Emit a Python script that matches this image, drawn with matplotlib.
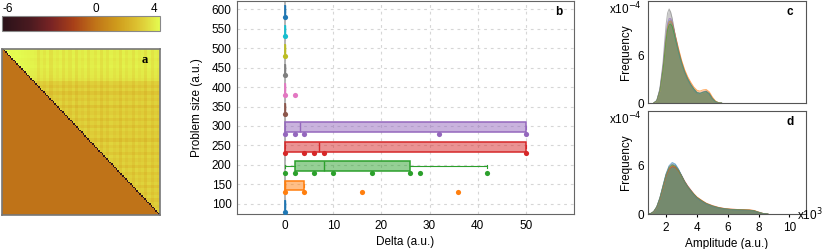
import numpy as np
import matplotlib
matplotlib.use("Agg")
import matplotlib.pyplot as plt
from matplotlib.colors import LinearSegmentedColormap

plt.rcParams['font.family'] = ['Liberation Sans', 'DejaVu Sans']
plt.rcParams['font.size'] = 8.5
plt.rcParams['axes.unicode_minus'] = False

# ---- panel a: matrix (upper triangle = base + row/col shift, lower = 0, diag = -6)
upper_base = 3.3
lower_value = 0.0
diag_value = -6.0
row_shift = [0.8, 0.75, 0.8, 0.7, 0.75, 0.8, 0.7, 0.65, 0.6, 0.5,
             0.0, -0.25, 0.05, -0.35, 0.0, -0.2, 0.05, -0.4, 0.0, -0.15,
             0.05, -0.3, 0.0, -0.35, 0.05, -0.15, 0.0, -0.4, 0.05, -0.2,
             0.0, -0.3, 0.05, -0.15, 0.0, -0.35, 0.05, -0.25, 0.0, -0.15,
             0.05, -0.35, 0.0, -0.2, 0.05, -0.3, 0.0, -0.15, 0.05, -0.25]
col_shift = [0.4, 0.35, 0.4, 0.3, 0.35, 0.3, 0.25, 0.2, 0.15, 0.1,
             0.05, -0.3, 0.0, -0.2, 0.05, -0.35, 0.0, -0.15, 0.05, -0.3,
             0.0, -0.25, 0.05, -0.35, 0.0, -0.15, 0.05, -0.3, 0.0, -0.2,
             0.05, -0.35, 0.0, -0.25, 0.05, -0.15, 0.0, -0.35, 0.05, -0.2,
             0.0, -0.3, 0.05, -0.15, 0.0, -0.35, 0.05, -0.25, 0.0, -0.15]
cbar_ticks = [-6, 0, 4]
vmin, vmax = -6.4, 4.4

# ---- panel b: delta per problem size
sizes = [100, 150, 200, 250, 300, 350, 400, 450, 500, 550, 600]
box_q1 = [0, 0, 2, 0, 0, 0, 0, 0, 0, 0, 0]
box_med = [0, 0, 8, 7, 3, 0, 0, 0, 0, 0, 0]
box_q3 = [0, 4, 26, 50, 50, 0, 0, 0, 0, 0, 0]
whisk_lo = [0, 0, 0, 0, 0, 0, 0, 0, 0, 0, 0]
whisk_hi = [0, 4, 42, 50, 50, 0, 0, 0, 0, 0, 0]
points = [[0],
          [0, 4, 16, 36],
          [0, 2, 6, 10, 18, 26, 28, 42],
          [0, 4, 6, 8, 50],
          [0, 2, 4, 32, 50],
          [0],
          [0, 2],
          [0], [0], [0], [0]]
colors = ['tab:blue', 'tab:orange', 'tab:green', 'tab:red', 'tab:purple',
          'tab:brown', 'tab:pink', 'tab:gray', 'tab:olive', 'tab:cyan', 'tab:blue']

# ---- panels c/d: amplitude densities (x in 1e3 a.u., y in 1e-4)
c_amp = [1.2, 1.4, 1.6, 1.8, 1.9, 2.0, 2.1, 2.2, 2.3, 2.4, 2.5, 2.6, 2.8, 3.0,
         3.2, 3.4, 3.6, 3.8, 4.0, 4.2, 4.4, 4.6, 4.8, 5.0, 5.2, 5.4, 5.6]
c_freq = {
    'tab:cyan': [0, 0.3, 1.6, 4.3, 6.2, 8.2, 9.6, 10.3, 10.3, 9.9, 9.1, 8.2, 6.5, 5.0,
                 3.9, 3.0, 2.3, 1.7, 1.3, 1.2, 1.35, 1.45, 1.15, 0.55, 0.18, 0.03, 0],
    'tab:purple': [0, 0.3, 1.7, 4.6, 6.6, 8.6, 10.0, 10.6, 10.6, 10.1, 9.3, 8.4, 6.7, 5.2,
                   4.0, 3.1, 2.4, 1.8, 1.35, 1.25, 1.4, 1.5, 1.2, 0.6, 0.2, 0.03, 0],
    'tab:orange': [0, 0.25, 1.5, 4.2, 6.0, 8.0, 9.5, 10.2, 10.3, 10.0, 9.3, 8.5, 6.9, 5.4,
                   4.2, 3.3, 2.6, 2.0, 1.6, 1.5, 1.65, 1.7, 1.4, 0.75, 0.25, 0.05, 0],
    'tab:green': [0, 0.28, 1.55, 4.1, 5.9, 7.8, 9.2, 9.8, 9.9, 9.6, 8.9, 8.1, 6.5, 5.1,
                  3.9, 3.0, 2.3, 1.75, 1.3, 1.2, 1.35, 1.45, 1.15, 0.55, 0.18, 0.03, 0],
    'tab:gray': [0, 0.3, 1.8, 5.0, 7.5, 9.8, 11.3, 11.8, 11.4, 10.6, 9.5, 8.4, 6.5, 5.0,
                 3.8, 2.9, 2.2, 1.6, 1.2, 1.1, 1.3, 1.45, 1.1, 0.5, 0.15, 0.02, 0],
}
d_amp = [0.8, 1.0, 1.2, 1.4, 1.6, 1.8, 2.0, 2.2, 2.4, 2.6, 2.8, 3.0, 3.2, 3.4, 3.6,
         3.8, 4.0, 4.3, 4.6, 5.0, 5.4, 5.8, 6.2, 6.6, 7.0, 7.4, 7.7, 8.0, 8.3, 8.6]
d_freq = {
    'tab:red': [0, 0.05, 0.28, 0.85, 1.9, 3.3, 4.7, 5.6, 5.9, 5.8, 5.4, 4.8, 4.1, 3.5, 3.0,
                2.5, 2.1, 1.7, 1.35, 1.05, 0.82, 0.68, 0.6, 0.56, 0.54, 0.5, 0.42, 0.22, 0.05, 0],
    'tab:orange': [0, 0.05, 0.28, 0.85, 1.9, 3.3, 4.8, 5.7, 6.0, 5.9, 5.4, 4.7, 4.0, 3.4, 2.9,
                   2.5, 2.1, 1.7, 1.3, 1.0, 0.8, 0.66, 0.6, 0.56, 0.55, 0.52, 0.44, 0.24, 0.06, 0],
    'tab:blue': [0, 0.05, 0.3, 0.9, 2.0, 3.5, 5.0, 6.0, 6.4, 6.2, 5.6, 4.8, 4.0, 3.4, 2.9,
                 2.4, 2.0, 1.6, 1.25, 0.95, 0.75, 0.62, 0.55, 0.5, 0.48, 0.45, 0.38, 0.2, 0.05, 0],
    'tab:green': [0, 0.05, 0.29, 0.88, 1.95, 3.4, 4.85, 5.8, 6.1, 5.95, 5.45, 4.75, 4.0, 3.4, 2.9,
                  2.45, 2.05, 1.65, 1.3, 1.0, 0.78, 0.64, 0.57, 0.53, 0.5, 0.47, 0.4, 0.21, 0.05, 0],
    'tab:gray': [0, 0.05, 0.3, 0.9, 2.0, 3.5, 4.9, 5.9, 6.2, 6.0, 5.5, 4.8, 4.0, 3.4, 2.9,
                 2.4, 2.0, 1.6, 1.25, 0.95, 0.75, 0.62, 0.55, 0.5, 0.48, 0.45, 0.38, 0.2, 0.05, 0],
}

# colormap dark brown -> red -> orange -> yellow
nodes = [(-6.4, '#2a1219'), (-4.5, '#4a1a20'), (-3.0, '#7a2424'), (-1.5, '#a84018'),
         (0.0, '#c07418'), (1.5, '#cf9c1c'), (2.8, '#dcc030'), (3.4, '#e0d43c'),
         (4.4, '#e4fc50')]
cmap = LinearSegmentedColormap.from_list(
    'heat', [((v - vmin) / (vmax - vmin), c) for v, c in nodes])

W, H = 828, 249
fig = plt.figure(figsize=(W / 100, H / 100), dpi=100)
ax_cb = fig.add_axes([2 / W, 1 - 31 / H, 158 / W, 15 / H])
ax_a = fig.add_axes([2 / W, 34 / H, 158 / W, 166 / H])
ax_b = fig.add_axes([237 / W, 35 / H, 337 / W, 213 / H])
ax_c = fig.add_axes([648 / W, 146 / H, 158 / W, 102 / H])
ax_d = fig.add_axes([648 / W, 35 / H, 158 / W, 103 / H])

# ---- a  (each cell of the 50x50 pattern shown as 2x2 so the diagonal is thin)
rows = np.repeat(row_shift, 2)
cols = np.repeat(col_shift, 2)
n = len(rows)
mat = np.full((n, n), lower_value)
for i in range(n):
    for j in range(i + 1, n):
        mat[i, j] = upper_base + rows[i] + cols[j]
    mat[i, i] = diag_value
im = ax_a.imshow(mat, cmap=cmap, vmin=vmin, vmax=vmax, aspect='auto',
                 interpolation='nearest')
ax_a.set_xticks([])
ax_a.set_yticks([])
for s in ax_a.spines.values():
    s.set_color('#777777')
    s.set_linewidth(1.2)
ax_a.text(0.905, 0.935, 'a', transform=ax_a.transAxes, ha='center', va='center',
          fontsize=9, fontweight='bold', family='Liberation Serif')

cb = fig.colorbar(im, cax=ax_cb, orientation='horizontal', ticks=cbar_ticks)
ax_cb.xaxis.set_ticks_position('top')
ax_cb.tick_params(length=0, pad=1, labelsize=8.5)
cb.outline.set_edgecolor('#888888')

# ---- b
ax_b.set_axisbelow(True)
ax_b.grid(True, linestyle=(0, (2.5, 3.5)), color='#d6d6d6', linewidth=0.8)
ax_b.axvline(0, color='#a8a8a8', linewidth=1.2, zorder=1)
stats = []
for k in range(len(sizes)):
    stats.append(dict(med=box_med[k], q1=box_q1[k], q3=box_q3[k],
                      whislo=whisk_lo[k], whishi=whisk_hi[k], fliers=[]))
box_pos = [s - 3 for s in sizes]
art = ax_b.bxp(stats, positions=box_pos, widths=25, vert=False, patch_artist=True,
               showfliers=False, capwidths=8, manage_ticks=False)
for k, c in enumerate(colors):
    art['boxes'][k].set_facecolor(matplotlib.colors.to_rgba(c, 0.5))
    art['boxes'][k].set_edgecolor(c)
    art['boxes'][k].set_linewidth(1.1)
    art['medians'][k].set_color(c)
    art['medians'][k].set_linewidth(1.0)
    for w in art['whiskers'][2 * k:2 * k + 2] + art['caps'][2 * k:2 * k + 2]:
        w.set_color(c)
        w.set_linewidth(0.8)
for k, c in enumerate(colors):
    ax_b.scatter(points[k], [sizes[k] - 20] * len(points[k]), s=14, color=c,
                 zorder=3, linewidths=0)
ax_b.set_xlim(-10, 60)
ax_b.set_ylim(74, 621)
ax_b.set_xticks([0, 10, 20, 30, 40, 50])
ax_b.set_yticks(sizes)
ax_b.tick_params(length=0, pad=4, labelsize=8.5)
ax_b.set_xlabel('Delta (a.u.)', fontsize=8.5, labelpad=3)
ax_b.set_ylabel('Problem size (a.u.)', fontsize=8.5, labelpad=6)
for s in ax_b.spines.values():
    s.set_color('#666666')
ax_b.text(0.955, 0.95, 'b', transform=ax_b.transAxes, ha='center', va='center',
          fontsize=8.5, fontweight='bold')

# ---- c / d
for ax, xs, curves, lab in [(ax_c, c_amp, c_freq, 'c'), (ax_d, d_amp, d_freq, 'd')]:
    for c, ys in curves.items():
        ax.fill_between(xs, ys, color=c, alpha=0.4, linewidth=0)
        ax.plot(xs, ys, color=c, linewidth=0.7, alpha=0.6)
    ax.set_xlim(0.83, 11.07)
    ax.set_ylim(0, 12.8)
    ax.set_yticks([0, 6])
    ax.set_xticks([2, 4, 6, 8, 10])
    ax.tick_params(axis='y', length=0, pad=3, labelsize=8.5)
    ax.tick_params(axis='x', length=2, labelsize=8.5)
    ax.set_ylabel('Frequency', fontsize=8.5, labelpad=4)
    for s in ax.spines.values():
        s.set_color('#555555')
    ax.text(0.9, 0.89, lab, transform=ax.transAxes, ha='center', va='center',
            fontsize=8.5, fontweight='bold')
    ax.text(-0.04, 1.0, r'x10$^{-4}$', transform=ax.transAxes, ha='right', va='top',
            fontsize=8.5)
ax_c.tick_params(axis='x', labelbottom=False, length=0)
ax_d.set_xlabel('Amplitude (a.u.)', fontsize=8.5, labelpad=3)
ax_d.text(0.94, -0.01, r'x10$^{3}$', transform=ax_d.transAxes, ha='left', va='center',
          fontsize=8.5)

fig.savefig('out.png', dpi=100)
